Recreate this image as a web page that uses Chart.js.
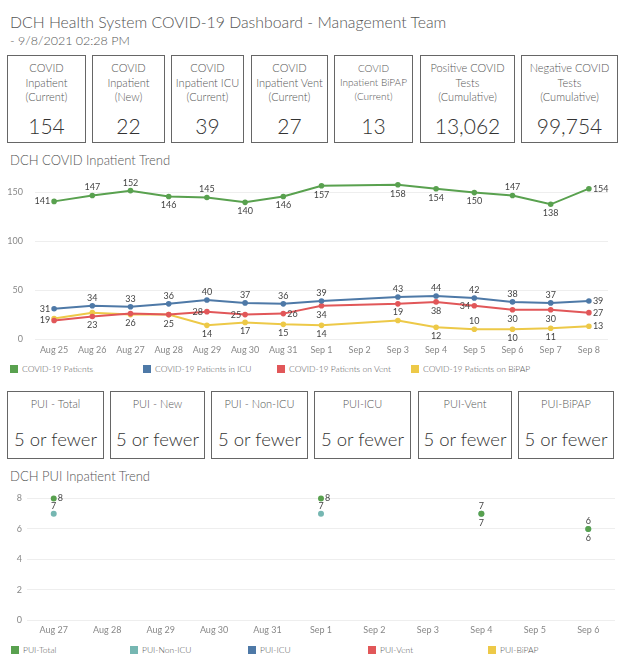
<!DOCTYPE html>
<html lang="en">
<head>
<meta charset="UTF-8">
<title>DCH Health System COVID-19 Dashboard</title>
<script src="https://cdn.jsdelivr.net/npm/chart.js"></script>
<style>
    body {
        margin: 0;
        background: #fff;
        font-family: Lato, "Noto Sans", sans-serif;
        font-weight: 300;
        color: #555;
    }
    #page { position: relative; width: 624px; height: 662px; overflow: hidden; }
    .abs { position: absolute; }
    .title { left: 10px; font-size: 15.8px; color: #555; white-space: nowrap; }
    .subtitle { left: 10px; font-size: 12.5px; color: #555; }
    .section { left: 10px; font-size: 13px; color: #555; white-space: nowrap; }
    .box {
        position: absolute;
        box-sizing: border-box;
        border: 1px solid #666;
        text-align: center;
        color: #444;
    }
    .box .lbl { position: absolute; left: 0; right: 0; font-size: 11px; line-height: 14.5px; color: #555; }
    .box .val { position: absolute; left: 0; right: 0; color: #333; }
    .legend { position: absolute; font-size: 8.5px; color: #555; white-space: nowrap; line-height: 10px; }
    .legend i { display: inline-block; width: 8px; height: 8px; vertical-align: -1px; margin-right: 4px; }
</style>
</head>
<body>
<div id="page">
    <div class="abs title" style="top:12px">DCH Health System COVID-19 Dashboard - Management Team</div>
    <div class="abs subtitle" style="top:33px">- 9/8/2021 02:28 PM</div>

    <div class="abs section" style="top:152px">DCH COVID Inpatient Trend</div>
    <div class="abs" style="left:0;top:170px;width:624px;height:189px"><canvas id="trendChart"></canvas></div>

    <div class="abs section" style="top:468px">DCH PUI Inpatient Trend</div>
    <div class="abs" style="left:0;top:485px;width:624px;height:151px"><canvas id="puiChart"></canvas></div>
</div>

<script>
    // KPI tiles
    const kpiLabels = [
        ['COVID', 'Inpatient', '(Current)'],
        ['COVID', 'Inpatient', '(New)'],
        ['COVID', 'Inpatient ICU', '(Current)'],
        ['COVID', 'Inpatient Vent', '(Current)'],
        ['COVID', 'Inpatient BiPAP', '(Current)'],
        ['Positive COVID', 'Tests', '(Cumulative)'],
        ['Negative COVID', 'Tests', '(Cumulative)']
    ];
    const kpiValues = ['154', '22', '39', '27', '13', '13,062', '99,754'];

    const puiLabels = ['PUI - Total', 'PUI - New', 'PUI - Non-ICU', 'PUI-ICU', 'PUI-Vent', 'PUI-BiPAP'];
    const puiValues = ['5 or fewer', '5 or fewer', '5 or fewer', '5 or fewer', '5 or fewer', '5 or fewer'];

    // COVID inpatient trend
    const trendDates = ['Aug 25', 'Aug 26', 'Aug 27', 'Aug 28', 'Aug 29', 'Aug 30', 'Aug 31',
        'Sep 1', 'Sep 2', 'Sep 3', 'Sep 4', 'Sep 5', 'Sep 6', 'Sep 7', 'Sep 8'];
    const covidPatients = [141, 147, 152, 146, 145, 140, 146, 157, null, 158, 154, 150, 147, 138, 154];
    const covidIcu      = [31, 34, 33, 36, 40, 37, 36, 39, null, 43, 44, 42, 38, 37, 39];
    const covidVent     = [19, 23, 26, 25, 28, 25, 26, 34, null, 36, 38, 34, 30, 30, 27];
    const covidBipap    = [21, 27, 25, 25, 14, 17, 15, 14, null, 19, 12, 10, 10, 11, 13];
    const trendTicks = [0, 50, 100, 150];

    // PUI trend
    const puiDates = ['Aug 27', 'Aug 28', 'Aug 29', 'Aug 30', 'Aug 31', 'Sep 1', 'Sep 2', 'Sep 3', 'Sep 4', 'Sep 5', 'Sep 6'];
    const puiTotal  = [8, null, null, null, null, 8, null, null, 7, null, 6];
    const puiNonIcu = [7, null, null, null, null, 7, null, null, 7, null, 6];
    const puiIcu    = [null, null, null, null, null, null, null, null, null, null, null];
    const puiVent   = [null, null, null, null, null, null, null, null, null, null, null];
    const puiBipap  = [null, null, null, null, null, null, null, null, null, null, null];
    const puiTicks = [0, 2, 4, 6, 8];

    // where each value label sits: a above, b below, l left, r right, - none
    const patientsLabelPos = 'l a a b a b b b - b b b a b r'.split(' ');
    const icuLabelPos      = 'l a a a a a a a - a a a a a r'.split(' ');
    const ventLabelPos     = 'l b b b l l r b - - b l b b r'.split(' ');
    const bipapLabelPos    = '- - - - b b b b - a b a b b r'.split(' ');
    const puiTotalLabelPos  = 'r - - - - r - - a - a'.split(' ');
    const puiNonIcuLabelPos = 'a - - - - a - - b - b'.split(' ');

    const GREEN = '#59a14f', BLUE = '#4e79a7', RED = '#e15759', YELLOW = '#edc948', TEAL = '#76b7b2';

    const page = document.getElementById('page');

    // build tiles
    const kpiX = [[7, 86], [92, 165], [171, 244], [251, 328], [334, 413], [420, 515], [521, 618]];
    kpiLabels.forEach((lines, i) => {
        const b = document.createElement('div');
        b.className = 'box';
        b.style.left = kpiX[i][0] + 'px';
        b.style.width = (kpiX[i][1] - kpiX[i][0]) + 'px';
        b.style.top = '55px';
        b.style.height = '88px';
        const small = i === 4 ? 'font-size:10px;line-height:14px;' : '';
        b.innerHTML = '<div class="lbl" style="top:5px;' + small + '">' + lines.join('<br>') + '</div>' +
            '<div class="val" style="top:58px;font-size:21px;line-height:24px">' + kpiValues[i] + '</div>';
        page.appendChild(b);
    });

    const puiX = [[7, 104], [110, 205], [211, 308], [314, 411], [418, 512], [518, 614]];
    puiLabels.forEach((t, i) => {
        const b = document.createElement('div');
        b.className = 'box';
        b.style.left = puiX[i][0] + 'px';
        b.style.width = (puiX[i][1] - puiX[i][0]) + 'px';
        b.style.top = '391px';
        b.style.height = '68px';
        b.innerHTML = '<div class="lbl" style="top:5px;font-size:11px">' + t + '</div>' +
            '<div class="val" style="top:35px;font-size:18.5px;line-height:24px">' + puiValues[i] + '</div>';
        page.appendChild(b);
    });

    function legend(items, y, xs) {
        items.forEach((it, i) => {
            const d = document.createElement('div');
            d.className = 'legend';
            d.style.left = xs[i] + 'px';
            d.style.top = (y - 5) + 'px';
            d.innerHTML = '<i style="background:' + it[1] + '"></i>' + it[0];
            page.appendChild(d);
        });
    }

    const labelPlugin = {
        id: 'valueLabels',
        afterDatasetsDraw(chart) {
            const ctx = chart.ctx;
            ctx.save();
            ctx.font = '9px Lato, "Noto Sans", sans-serif';
            ctx.fillStyle = '#444';
            ctx.textBaseline = 'middle';
            chart.data.datasets.forEach((ds, i) => {
                if (!ds.labelPos) return;
                const meta = chart.getDatasetMeta(i);
                meta.data.forEach((pt, j) => {
                    const p = ds.labelPos[j];
                    const v = ds.data[j];
                    if (!p || p === '-' || v == null) return;
                    let x = pt.x, y = pt.y;
                    if (p === 'a') y -= 8;
                    else if (p === 'b') y += 9;
                    else if (p === 'l') x -= 4;
                    else if (p === 'r') x += 4;
                    ctx.textAlign = p === 'l' ? 'right' : p === 'r' ? 'left' : 'center';
                    ctx.fillText(v, x, y);
                });
            });
            ctx.restore();
        }
    };

    function line(label, data, color, pos) {
        return {
            label: label, data: data, labelPos: pos,
            borderColor: color, backgroundColor: color,
            borderWidth: 2, pointRadius: 1.8, pointHoverRadius: 2,
            spanGaps: true, tension: 0
        };
    }

    const tickFont = { family: 'Lato, "Noto Sans", sans-serif', size: 9 };

    // y axis: fixed width, and no extra top/bottom padding from the tick labels
    function fixY(width) {
        return function (s) {
            s.width = width;
            s.paddingTop = 0;
            s.paddingBottom = 0;
        };
    }

    new Chart(document.getElementById('trendChart'), {
        type: 'line',
        data: {
            labels: trendDates,
            datasets: [
                line('COVID-19 Patients', covidPatients, GREEN, patientsLabelPos),
                line('COVID-19 Patients in ICU', covidIcu, BLUE, icuLabelPos),
                line('COVID-19 Patients on Vent', covidVent, RED, ventLabelPos),
                line('COVID-19 Patients on BiPAP', covidBipap, YELLOW, bipapLabelPos)
            ]
        },
        options: {
            responsive: true,
            maintainAspectRatio: false,
            animation: false,
            layout: { padding: { top: 6, right: 16, left: 0, bottom: 0 } },
            plugins: { legend: { display: false }, tooltip: { enabled: false } },
            scales: {
                x: {
                    offset: true,
                    grid: { display: false, drawTicks: false },
                    border: { display: false },
                    ticks: { color: '#888', font: tickFont, padding: 6, maxRotation: 0, autoSkip: false },
                    afterFit(s) { s.height = 20; }
                },
                y: {
                    min: 0, max: 167, bounds: 'data',
                    afterBuildTicks(s) { s.ticks = trendTicks.map(v => ({ value: v })); },
                    grid: { color: '#eeeeee', drawTicks: false },
                    border: { display: false },
                    ticks: { color: '#888', font: tickFont, padding: 12 },
                    afterFit: fixY(35)
                }
            }
        },
        plugins: [labelPlugin]
    });

    new Chart(document.getElementById('puiChart'), {
        type: 'line',
        data: {
            labels: puiDates,
            datasets: [
                line('PUI-Total', puiTotal, GREEN, puiTotalLabelPos),
                line('PUI-Non-ICU', puiNonIcu, TEAL, puiNonIcuLabelPos),
                line('PUI-ICU', puiIcu, BLUE, null),
                line('PUI-Vent', puiVent, RED, null),
                line('PUI-BiPAP', puiBipap, YELLOW, null)
            ].map(d => Object.assign(d, { showLine: false, pointRadius: 2 }))
        },
        options: {
            responsive: true,
            maintainAspectRatio: false,
            animation: false,
            layout: { padding: { top: 6, right: 9, left: 0, bottom: 0 } },
            plugins: { legend: { display: false }, tooltip: { enabled: false } },
            scales: {
                x: {
                    offset: true,
                    grid: { display: false, drawTicks: false },
                    border: { display: false },
                    ticks: { color: '#888', font: tickFont, padding: 5, maxRotation: 0, autoSkip: false },
                    afterFit(s) { s.height = 16; }
                },
                y: {
                    min: 0, max: 8.5, bounds: 'data',
                    afterBuildTicks(s) { s.ticks = puiTicks.map(v => ({ value: v })); },
                    grid: { color: '#eeeeee', drawTicks: false },
                    border: { display: false },
                    ticks: { color: '#888', font: tickFont, padding: 5 },
                    afterFit: fixY(27)
                }
            }
        },
        plugins: [labelPlugin]
    });

    legend([['COVID-19 Patients', GREEN], ['COVID-19 Patients in ICU', BLUE],
        ['COVID-19 Patients on Vent', RED], ['COVID-19 Patients on BiPAP', YELLOW]], 369, [10, 143, 277, 411]);
    legend([['PUI-Total', GREEN], ['PUI-Non-ICU', TEAL], ['PUI-ICU', BLUE],
        ['PUI-Vent', RED], ['PUI-BiPAP', YELLOW]], 650, [11, 130, 248, 368, 488]);
</script>
</body>
</html>
